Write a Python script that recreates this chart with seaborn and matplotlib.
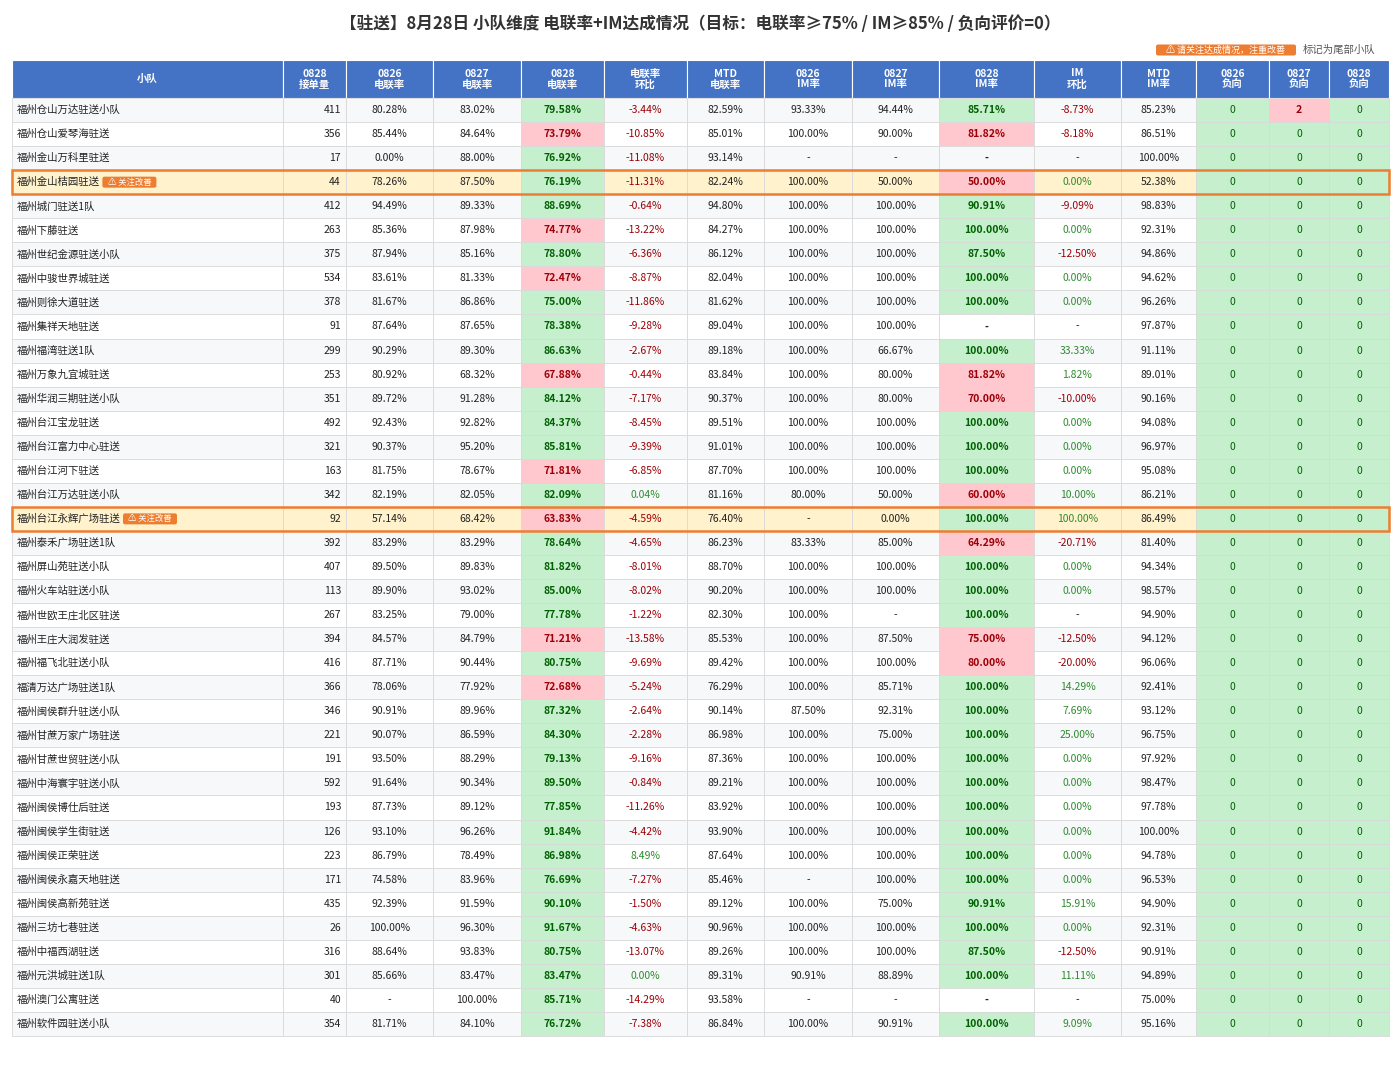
import matplotlib
matplotlib.use("Agg")
import matplotlib.pyplot as plt
import seaborn as sns
from matplotlib.patches import Rectangle, FancyBboxPatch

sns.set_theme(style="white")
plt.rcParams['font.family'] = ['Noto Sans CJK SC', 'DejaVu Sans']

# ========== DATA ==========
N = None
teams = ["福州仓山万达驻送小队", "福州仓山爱琴海驻送", "福州金山万科里驻送", "福州金山桔园驻送", "福州城门驻送1队",
         "福州下藤驻送", "福州世纪金源驻送小队", "福州中骏世界城驻送", "福州则徐大道驻送", "福州集祥天地驻送",
         "福州福湾驻送1队", "福州万象九宜城驻送", "福州华润三期驻送小队", "福州台江宝龙驻送", "福州台江富力中心驻送",
         "福州台江河下驻送", "福州台江万达驻送小队", "福州台江永辉广场驻送", "福州泰禾广场驻送1队", "福州屏山苑驻送小队",
         "福州火车站驻送小队", "福州世欧王庄北区驻送", "福州王庄大润发驻送", "福州福飞北驻送小队", "福清万达广场驻送1队",
         "福州闽侯群升驻送小队", "福州甘蔗万家广场驻送", "福州甘蔗世贸驻送小队", "福州中海寰宇驻送小队", "福州闽侯博仕后驻送",
         "福州闽侯学生街驻送", "福州闽侯正荣驻送", "福州闽侯永嘉天地驻送", "福州闽侯高新苑驻送", "福州三坊七巷驻送",
         "福州中福西湖驻送", "福州元洪城驻送1队", "福州澳门公寓驻送", "福州软件园驻送小队"]
orders = [411, 356, 17, 44, 412, 263, 375, 534, 378, 91, 299, 253, 351, 492, 321, 163, 342, 92, 392, 407,
          113, 267, 394, 416, 366, 346, 221, 191, 592, 193, 126, 223, 171, 435, 26, 316, 301, 40, 354]
call_0826 = [80.28, 85.44, 0.00, 78.26, 94.49, 85.36, 87.94, 83.61, 81.67, 87.64, 90.29, 80.92, 89.72, 92.43,
             90.37, 81.75, 82.19, 57.14, 83.29, 89.50, 89.90, 83.25, 84.57, 87.71, 78.06, 90.91, 90.07, 93.50,
             91.64, 87.73, 93.10, 86.79, 74.58, 92.39, 100.00, 88.64, 85.66, N, 81.71]
call_0827 = [83.02, 84.64, 88.00, 87.50, 89.33, 87.98, 85.16, 81.33, 86.86, 87.65, 89.30, 68.32, 91.28, 92.82,
             95.20, 78.67, 82.05, 68.42, 83.29, 89.83, 93.02, 79.00, 84.79, 90.44, 77.92, 89.96, 86.59, 88.29,
             90.34, 89.12, 96.26, 78.49, 83.96, 91.59, 96.30, 93.83, 83.47, 100.00, 84.10]
call_0828 = [79.58, 73.79, 76.92, 76.19, 88.69, 74.77, 78.80, 72.47, 75.00, 78.38, 86.63, 67.88, 84.12, 84.37,
             85.81, 71.81, 82.09, 63.83, 78.64, 81.82, 85.00, 77.78, 71.21, 80.75, 72.68, 87.32, 84.30, 79.13,
             89.50, 77.85, 91.84, 86.98, 76.69, 90.10, 91.67, 80.75, 83.47, 85.71, 76.72]
call_chg = [-3.44, -10.85, -11.08, -11.31, -0.64, -13.22, -6.36, -8.87, -11.86, -9.28, -2.67, -0.44, -7.17, -8.45,
            -9.39, -6.85, 0.04, -4.59, -4.65, -8.01, -8.02, -1.22, -13.58, -9.69, -5.24, -2.64, -2.28, -9.16,
            -0.84, -11.26, -4.42, 8.49, -7.27, -1.50, -4.63, -13.07, 0.00, -14.29, -7.38]
call_mtd = [82.59, 85.01, 93.14, 82.24, 94.80, 84.27, 86.12, 82.04, 81.62, 89.04, 89.18, 83.84, 90.37, 89.51,
            91.01, 87.70, 81.16, 76.40, 86.23, 88.70, 90.20, 82.30, 85.53, 89.42, 76.29, 90.14, 86.98, 87.36,
            89.21, 83.92, 93.90, 87.64, 85.46, 89.12, 90.96, 89.26, 89.31, 93.58, 86.84]
im_0826 = [93.33, 100, N, 100, 100, 100, 100, 100, 100, 100, 100, 100, 100, 100, 100, 100, 80, N, 83.33, 100,
           100, 100, 100, 100, 100, 87.50, 100, 100, 100, 100, 100, 100, N, 100, 100, 100, 90.91, N, 100]
im_0827 = [94.44, 90, N, 50, 100, 100, 100, 100, 100, 100, 66.67, 80, 80, 100, 100, 100, 50, 0.00, 85.00, 100,
           100, N, 87.50, 100, 85.71, 92.31, 75, 100, 100, 100, 100, 100, 100, 75, 100, 100, 88.89, N, 90.91]
im_0828 = [85.71, 81.82, N, 50, 90.91, 100, 87.50, 100, 100, N, 100, 81.82, 70, 100, 100, 100, 60, 100, 64.29, 100,
           100, 100, 75, 80, 100, 100, 100, 100, 100, 100, 100, 100, 100, 90.91, 100, 87.50, 100, N, 100]
im_chg = [-8.73, -8.18, N, 0.00, -9.09, 0.00, -12.50, 0.00, 0.00, N, 33.33, 1.82, -10.00, 0.00, 0.00, 0.00, 10.00,
          100.00, -20.71, 0.00, 0.00, N, -12.50, -20.00, 14.29, 7.69, 25.00, 0.00, 0.00, 0.00, 0.00, 0.00, 0.00,
          15.91, 0.00, -12.50, 11.11, N, 9.09]
im_mtd = [85.23, 86.51, 100.00, 52.38, 98.83, 92.31, 94.86, 94.62, 96.26, 97.87, 91.11, 89.01, 90.16, 94.08,
          96.97, 95.08, 86.21, 86.49, 81.40, 94.34, 98.57, 94.90, 94.12, 96.06, 92.41, 93.12, 96.75, 97.92,
          98.47, 97.78, 100.00, 94.78, 96.53, 94.90, 92.31, 90.91, 94.89, 75.00, 95.16]
neg_0826 = [0] * 39
neg_0827 = [2] + [0] * 38
neg_0828 = [0] * 39
flagged = ["福州金山桔园驻送", "福州台江永辉广场驻送"]

headers = ["小队", "0828\n接单量", "0826\n电联率", "0827\n电联率", "0828\n电联率", "电联率\n环比", "MTD\n电联率",
           "0826\nIM率", "0827\nIM率", "0828\nIM率", "IM\n环比", "MTD\nIM率", "0826\n负向", "0827\n负向", "0828\n负向"]
col_w = [271, 63, 87, 88, 83, 83, 77, 88, 87, 95, 87, 75, 73, 60, 60]

# ========== STYLE ==========
HEAD = "#4472c4"
G_BG, G_TX = "#c6efce", "#006100"
R_BG, R_TX = "#ffc7ce", "#9c0006"
HL_BG, HL_BD = "#fff2cc", "#ed7d31"
GRID = "#d9d9d9"

fig = plt.figure(figsize=(14, 10.69), dpi=100)
ax = fig.add_axes([0, 0, 1, 1])
ax.set_xlim(0, 1400)
ax.set_ylim(1069, 0)
ax.axis("off")

x0, y_head, h_head, rh = 12, 60, 38, 24.05
xs = [x0]
for w in col_w:
    xs.append(xs[-1] + w)

ax.text(700, 24, "【驻送】8月28日 小队维度 电联率+IM达成情况（目标：电联率≥75% / IM≥85% / 负向评价=0）",
        ha="center", va="center", fontsize=12, fontweight="bold", color="#333333")
ax.add_patch(FancyBboxPatch((1156, 44.5), 140, 11, boxstyle="round,pad=0,rounding_size=2",
                            fc=HL_BD, ec="none"))
ax.text(1226, 50, "⚠ 请关注达成情况，注重改善", ha="center", va="center", fontsize=6.5, color="white")
ax.text(1303, 50, "标记为尾部小队", ha="left", va="center", fontsize=7.5, color="#555555")

for j, h in enumerate(headers):
    ax.add_patch(Rectangle((xs[j], y_head), col_w[j], h_head, fc=HEAD, ec="#ffffff", lw=0.8))
    ax.text(xs[j] + col_w[j] / 2, y_head + h_head / 2, h, ha="center", va="center",
            fontsize=7.5, fontweight="bold", color="white", linespacing=1.1)


def pct(v):
    return "-" if v is None else f"{v:.2f}%"


for i, name in enumerate(teams):
    y = y_head + h_head + i * rh
    base = HL_BG if name in flagged else ("#f7f8fa" if i % 2 == 0 else "#ffffff")
    cells = [name, str(orders[i]), pct(call_0826[i]), pct(call_0827[i]), pct(call_0828[i]), pct(call_chg[i]),
             pct(call_mtd[i]), pct(im_0826[i]), pct(im_0827[i]), pct(im_0828[i]), pct(im_chg[i]), pct(im_mtd[i]),
             str(neg_0826[i]), str(neg_0827[i]), str(neg_0828[i])]
    for j, txt in enumerate(cells):
        bg, tc, fw = base, "#222222", "normal"
        if j == 4:
            ok = call_0828[i] >= 75
            bg, tc, fw = (G_BG, G_TX, "bold") if ok else (R_BG, R_TX, "bold")
        elif j == 9:
            fw = "bold"
            if im_0828[i] is not None:
                ok = im_0828[i] >= 85
                bg, tc = (G_BG, G_TX) if ok else (R_BG, R_TX)
        elif j in (5, 10):
            v = call_chg[i] if j == 5 else im_chg[i]
            if v is not None:
                tc = R_TX if v < 0 else "#2e8b2e"
        elif j >= 12:
            v = [neg_0826, neg_0827, neg_0828][j - 12][i]
            bg, tc = (G_BG, G_TX) if v == 0 else (R_BG, R_TX)
            fw = "normal" if v == 0 else "bold"
        ax.add_patch(Rectangle((xs[j], y), col_w[j], rh, fc=bg, ec=GRID, lw=0.6))
        cy = y + rh / 2
        if j == 0:
            ax.text(xs[j] + 5, cy, txt, ha="left", va="center", fontsize=7.5, color="#222222")
            if name in flagged:
                tw = len(txt) * 10.3
                ax.add_patch(FancyBboxPatch((xs[j] + 8 + tw, cy - 5.5), 54, 11,
                                            boxstyle="round,pad=0,rounding_size=2", fc=HL_BD, ec="none"))
                ax.text(xs[j] + 8 + tw + 27, cy, "⚠ 关注改善", ha="center", va="center",
                        fontsize=6, color="white")
        elif j == 1:
            ax.text(xs[j + 1] - 5, cy, txt, ha="right", va="center", fontsize=7.5, color=tc)
        else:
            ax.text(xs[j] + col_w[j] / 2, cy, txt, ha="center", va="center", fontsize=7.5,
                    color=tc, fontweight=fw)
    if name in flagged:
        ax.add_patch(Rectangle((xs[0], y), xs[-1] - xs[0], rh, fc="none", ec=HL_BD, lw=1.8, zorder=5))

fig.savefig("out.png", dpi=100)
